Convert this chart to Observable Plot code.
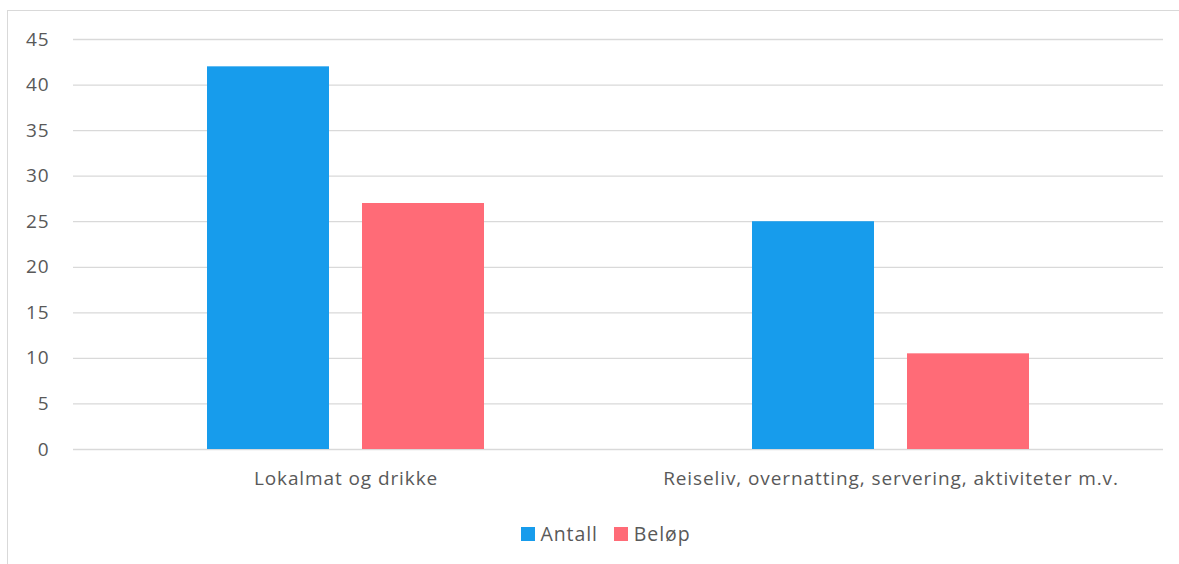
<!DOCTYPE html>
<html>
<head>
<meta charset="utf-8">
<script src="https://cdn.jsdelivr.net/npm/d3@7"></script>
<script src="https://cdn.jsdelivr.net/npm/@observablehq/plot@0.6"></script>
<style>
  html, body { margin: 0; padding: 0; background: #fff; }
  body { width: 1179px; height: 564px; position: relative; overflow: hidden; font-family: "Open Sans", sans-serif; }
  #frame { position: absolute; left: 7px; top: 10px; width: 1300px; height: 700px; border-left: 1px solid #d9d9d9; border-top: 1px solid #d9d9d9; }
  #chart { position: absolute; left: 0; top: 0; }
  #legend { position: absolute; left: 16px; top: 520px; width: 1179px; display: flex; justify-content: center; align-items: center; font-size: 19.5px; letter-spacing: 0.9px; color: #595959; line-height: 28px; }
  .item { display: flex; align-items: center; margin: 0 8px; }
  .sw { width: 14px; height: 14px; margin-right: 6px; }
</style>
</head>
<body>
<div id="frame"></div>
<div id="chart"></div>
<div id="legend"></div>
<script>
const categories = ["Lokalmat og drikke", "Reiseliv, overnatting, servering, aktiviteter m.v."];
const seriesNames = ["Antall", "Beløp"];
const antall = [42, 25];
const belop = [27, 10.5];
const yTicks = [0, 5, 10, 15, 20, 25, 30, 35, 40, 45];
const colors = ["#179CEC", "#FF6B77"];

const data = [];
categories.forEach((c, i) => {
  data.push({category: c, series: seriesNames[0], value: antall[i]});
  data.push({category: c, series: seriesNames[1], value: belop[i]});
});

const chart = Plot.plot({
  width: 1179,
  height: 500,
  marginLeft: 72,
  marginRight: 16,
  marginTop: 39,
  marginBottom: 51,
  style: {fontFamily: "'Open Sans', sans-serif", fontSize: "19px", letterSpacing: "0.9px", color: "#595959", background: "transparent"},
  facet: {data, x: "category"},
  fx: {domain: categories, padding: 0, label: null, tickSize: 0, tickPadding: 22, axis: "bottom"},
  x: {domain: seriesNames, axis: null, paddingInner: 0.2115, paddingOuter: 0.854},
  y: {domain: [0, 45], ticks: yTicks, tickSize: 0, tickPadding: 24, label: null, grid: false},
  color: {domain: seriesNames, range: colors},
  marks: [
    Plot.ruleY(yTicks, {stroke: "#d9d9d9", strokeWidth: 1.3}),
    Plot.barY(data, {x: "series", y: "value", fill: "series"})
  ]
});
document.getElementById("chart").appendChild(chart);

const legend = document.getElementById("legend");
seriesNames.forEach((s, i) => {
  const it = document.createElement("div");
  it.className = "item";
  const sw = document.createElement("div");
  sw.className = "sw";
  sw.style.background = colors[i];
  const t = document.createElement("span");
  t.textContent = s;
  it.appendChild(sw);
  it.appendChild(t);
  legend.appendChild(it);
});
</script>
</body>
</html>
